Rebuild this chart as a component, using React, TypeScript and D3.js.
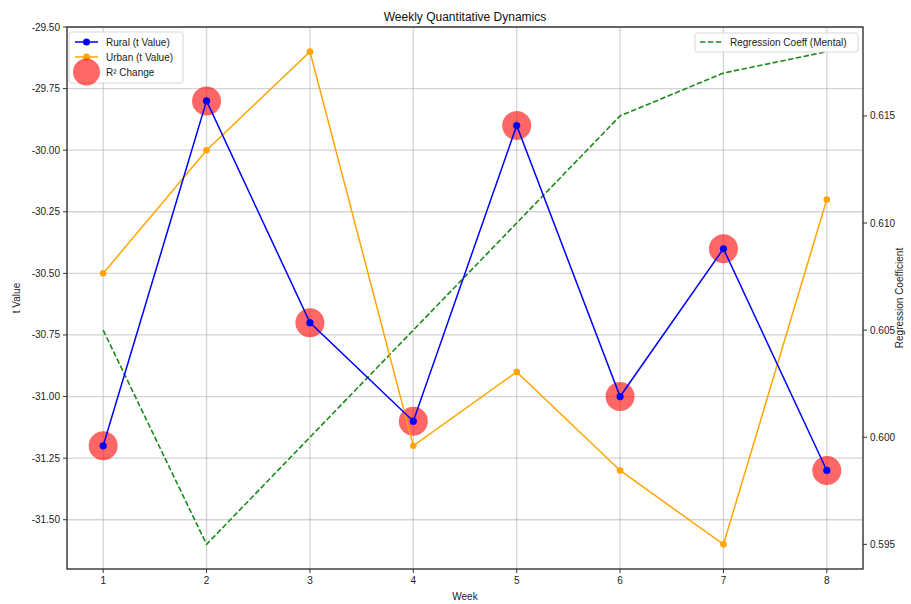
import React, { useRef, useEffect } from "react";
import * as d3 from "d3";

const weeks = [1, 2, 3, 4, 5, 6, 7, 8];
const ruralT = [-31.2, -29.8, -30.7, -31.1, -29.9, -31.0, -30.4, -31.3];
const urbanT = [-30.5, -30.0, -29.6, -31.2, -30.9, -31.3, -31.6, -30.2];
const regCoeff = [0.605, 0.595, 0.6, 0.605, 0.61, 0.615, 0.617, 0.618];
const leftTicks = [-31.5, -31.25, -31.0, -30.75, -30.5, -30.25, -30.0, -29.75, -29.5];
const rightTicks = [0.595, 0.6, 0.605, 0.61, 0.615];

const W = 911;
const H = 604;
const FONT = "'Liberation Sans', Arial, sans-serif";
const margin = { top: 27, right: 48, bottom: 35, left: 67 };

const App: React.FC = () => {
  const svgRef = useRef<SVGSVGElement | null>(null);

  const drawChart = () => {
    if (!svgRef.current) return;
    const root = d3.select(svgRef.current);
    root.selectAll("*").remove();

    const x0 = margin.left;
    const x1 = W - margin.right;
    const y0 = margin.top;
    const y1 = H - margin.bottom;

    const x = d3.scaleLinear().domain([0.65, 8.35]).range([x0, x1]);
    // matplotlib-like 5% padding
    const yL = d3.scaleLinear().domain([-31.7, -29.5]).range([y1, y0]);
    const yR = d3.scaleLinear().domain([0.59385, 0.61915]).range([y1, y0]);

    const svg = root.append("g").style("font-family", FONT);

    // grid
    const grid = svg.append("g").attr("stroke", "#b0b0b0").attr("stroke-opacity", 0.55).attr("stroke-width", 1.3);
    weeks.forEach((w) => {
      grid.append("line").attr("x1", x(w)).attr("x2", x(w)).attr("y1", y0).attr("y2", y1);
    });
    leftTicks.forEach((t) => {
      grid.append("line").attr("x1", x0).attr("x2", x1).attr("y1", yL(t)).attr("y2", yL(t));
    });

    // regression (right axis)
    const lineR = d3.line<number>().x((d, i) => x(weeks[i])).y((d) => yR(d));
    svg.append("path")
      .datum(regCoeff)
      .attr("d", lineR)
      .attr("fill", "none")
      .attr("stroke", "#1a8a1a")
      .attr("stroke-width", 1.6)
      .attr("stroke-dasharray", "5.5,2.4");

    const lineL = d3.line<number>().x((d, i) => x(weeks[i])).y((d) => yL(d));

    // R² change bubbles (under the lines)
    svg.append("g").selectAll("circle").data(ruralT).enter().append("circle")
      .attr("cx", (d, i) => x(weeks[i])).attr("cy", (d) => yL(d)).attr("r", 14.5)
      .attr("fill", "red").attr("fill-opacity", 0.6);

    // urban
    svg.append("path").datum(urbanT).attr("d", lineL)
      .attr("fill", "none").attr("stroke", "orange").attr("stroke-width", 1.5);
    svg.append("g").selectAll("circle").data(urbanT).enter().append("circle")
      .attr("cx", (d, i) => x(weeks[i])).attr("cy", (d) => yL(d)).attr("r", 3.3).attr("fill", "orange");

    // rural
    svg.append("path").datum(ruralT).attr("d", lineL)
      .attr("fill", "none").attr("stroke", "blue").attr("stroke-width", 1.5);
    svg.append("g").selectAll("circle").data(ruralT).enter().append("circle")
      .attr("cx", (d, i) => x(weeks[i])).attr("cy", (d) => yL(d)).attr("r", 3.6).attr("fill", "blue");

    // spines
    svg.append("rect").attr("x", x0).attr("y", y0).attr("width", x1 - x0).attr("height", y1 - y0)
      .attr("fill", "none").attr("stroke", "#333").attr("stroke-width", 1.4);

    // left ticks
    const lt = svg.append("g").selectAll("g").data(leftTicks).enter().append("g");
    lt.append("line").attr("x1", x0 - 4).attr("x2", x0).attr("y1", (d) => yL(d)).attr("y2", (d) => yL(d)).attr("stroke", "#333");
    lt.append("text").attr("x", x0 - 7).attr("y", (d) => yL(d)).attr("dy", "0.35em")
      .attr("text-anchor", "end").attr("font-size", 10).attr("fill", "#222")
      .text((d) => d3.format(".2f")(d).replace("−", "-"));

    // right ticks
    const rt = svg.append("g").selectAll("g").data(rightTicks).enter().append("g");
    rt.append("line").attr("x1", x1).attr("x2", x1 + 4).attr("y1", (d) => yR(d)).attr("y2", (d) => yR(d)).attr("stroke", "#333");
    rt.append("text").attr("x", x1 + 7).attr("y", (d) => yR(d)).attr("dy", "0.35em")
      .attr("font-size", 10).attr("fill", "#222").text((d) => d3.format(".3f")(d));

    // x ticks
    const xt = svg.append("g").selectAll("g").data(weeks).enter().append("g");
    xt.append("line").attr("x1", (d) => x(d)).attr("x2", (d) => x(d)).attr("y1", y1).attr("y2", y1 + 4).attr("stroke", "#333");
    xt.append("text").attr("x", (d) => x(d)).attr("y", y1 + 15).attr("text-anchor", "middle")
      .attr("font-size", 10).attr("fill", "#222").text((d) => String(d));

    // labels
    svg.append("text").attr("x", (x0 + x1) / 2).attr("y", 21).attr("text-anchor", "middle")
      .attr("font-size", 12).attr("fill", "#111").text("Weekly Quantitative Dynamics");
    svg.append("text").attr("x", (x0 + x1) / 2).attr("y", 600).attr("text-anchor", "middle")
      .attr("font-size", 10).attr("fill", "#222").text("Week");
    svg.append("text").attr("transform", `translate(20,${(y0 + y1) / 2}) rotate(-90)`)
      .attr("text-anchor", "middle").attr("font-size", 10).attr("fill", "#222").text("t Value");
    svg.append("text").attr("transform", `translate(903,${(y0 + y1) / 2}) rotate(-90)`)
      .attr("text-anchor", "middle").attr("font-size", 10).attr("fill", "#222").text("Regression Coefficient");

    // left legend
    const lg = svg.append("g");
    lg.append("rect").attr("x", 69).attr("y", 32).attr("width", 114).attr("height", 51).attr("rx", 2)
      .attr("fill", "white").attr("fill-opacity", 0.8).attr("stroke", "#d8d8d8");
    const items = [
      { label: "Rural (t Value)", color: "blue", y: 42 },
      { label: "Urban (t Value)", color: "orange", y: 57 },
    ];
    items.forEach((it) => {
      lg.append("line").attr("x1", 75).attr("x2", 98).attr("y1", it.y).attr("y2", it.y)
        .attr("stroke", it.color).attr("stroke-width", 1.5);
      lg.append("circle").attr("cx", 86.5).attr("cy", it.y).attr("r", 3.5).attr("fill", it.color);
      lg.append("text").attr("x", 106).attr("y", it.y).attr("dy", "0.35em")
        .attr("font-size", 10).attr("fill", "#222").text(it.label);
    });
    lg.append("circle").attr("cx", 86.5).attr("cy", 72).attr("r", 13.5).attr("fill", "red").attr("fill-opacity", 0.6);
    lg.append("text").attr("x", 106).attr("y", 72).attr("dy", "0.35em")
      .attr("font-size", 10).attr("fill", "#222").text("R² Change");

    // right legend
    const rg = svg.append("g");
    rg.append("rect").attr("x", 695).attr("y", 33).attr("width", 163).attr("height", 19).attr("rx", 2)
      .attr("fill", "white").attr("fill-opacity", 0.8).attr("stroke", "#d8d8d8");
    rg.append("line").attr("x1", 700).attr("x2", 722).attr("y1", 42).attr("y2", 42)
      .attr("stroke", "#1a8a1a").attr("stroke-width", 1.6).attr("stroke-dasharray", "5.5,2.4");
    rg.append("text").attr("x", 730).attr("y", 42).attr("dy", "0.35em")
      .attr("font-size", 10).attr("fill", "#222").text("Regression Coeff (Mental)");
  };

  useEffect(() => {
    drawChart();
  }, []);

  return (
    <svg ref={svgRef} width={W} height={H} style={{ position: "absolute", left: 0, top: 0, background: "white" }}></svg>
  );
};

export default App;
